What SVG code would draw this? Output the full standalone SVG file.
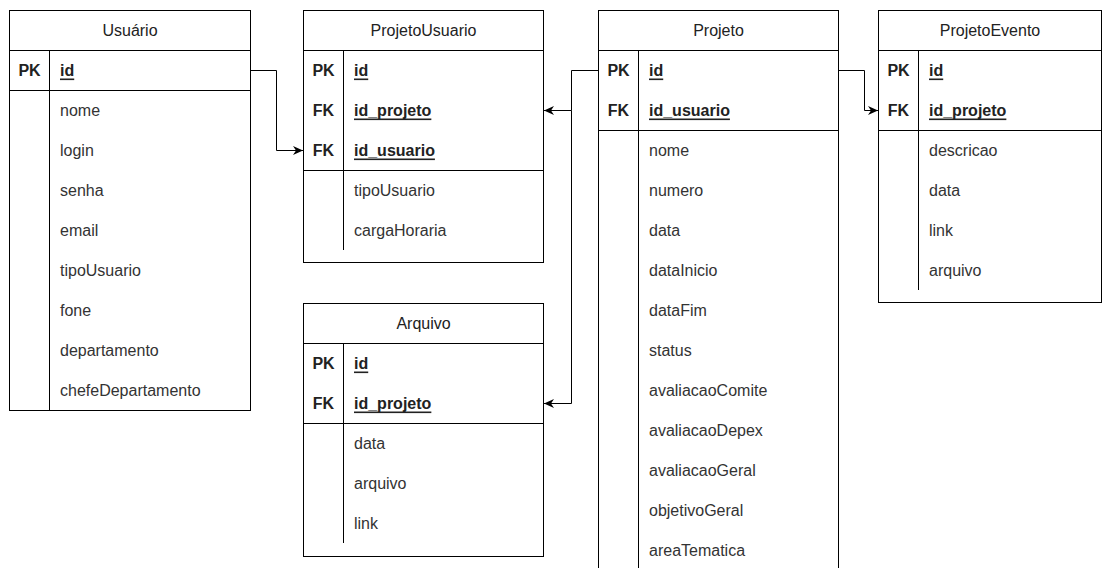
<svg xmlns="http://www.w3.org/2000/svg" width="1115" height="568" viewBox="0 0 1115 568">
<style>
.box{fill:#fff;stroke:#000;stroke-width:1}
.ln{stroke:#000;stroke-width:1;fill:none}
.t{font-family:"Liberation Sans",Arial,sans-serif;font-size:16px;fill:#333;dominant-baseline:central}
.h{text-anchor:middle;fill:#222}
.k{font-weight:bold;text-anchor:middle;fill:#222}
.kf{font-weight:bold;text-decoration:underline;fill:#222}
.c{stroke:#000;stroke-width:1;fill:none;marker-end:url(#arr)}
</style>
<defs>
<marker id="arr" markerUnits="userSpaceOnUse" markerWidth="12" markerHeight="10" refX="10" refY="4.5" orient="auto">
<path d="M0,0 L10,4.5 L0,9 L3,4.5 z" fill="#000"/>
</marker>
</defs>
<rect width="1115" height="568" fill="#fff"/>

<g id="usuario">
<rect class="box" x="9.5" y="10.5" width="241" height="400"/>
<line class="ln" x1="9.5" y1="50.5" x2="250.5" y2="50.5"/>
<line class="ln" x1="9.5" y1="90.5" x2="250.5" y2="90.5"/>
<line class="ln" x1="49.5" y1="50.5" x2="49.5" y2="410.5"/>
<text class="t h" x="130" y="30">Usuário</text>
<text class="t k" x="29.5" y="70">PK</text>
<text class="t kf" x="60" y="70">id</text>
<text class="t" x="60" y="110">nome</text>
<text class="t" x="60" y="150">login</text>
<text class="t" x="60" y="190">senha</text>
<text class="t" x="60" y="230">email</text>
<text class="t" x="60" y="270">tipoUsuario</text>
<text class="t" x="60" y="310">fone</text>
<text class="t" x="60" y="350">departamento</text>
<text class="t" x="60" y="390">chefeDepartamento</text>
</g>

<g id="projetousuario">
<rect class="box" x="303.5" y="10.5" width="240" height="252"/>
<line class="ln" x1="303.5" y1="50.5" x2="543.5" y2="50.5"/>
<line class="ln" x1="303.5" y1="170.5" x2="543.5" y2="170.5"/>
<line class="ln" x1="343.5" y1="50.5" x2="343.5" y2="250"/>
<text class="t h" x="423.5" y="30">ProjetoUsuario</text>
<text class="t k" x="323.5" y="70">PK</text>
<text class="t kf" x="354" y="70">id</text>
<text class="t k" x="323.5" y="110">FK</text>
<text class="t kf" x="354" y="110">id_projeto</text>
<text class="t k" x="323.5" y="150">FK</text>
<text class="t kf" x="354" y="150">id_usuario</text>
<text class="t" x="354" y="190">tipoUsuario</text>
<text class="t" x="354" y="230">cargaHoraria</text>
</g>

<g id="arquivo">
<rect class="box" x="303.5" y="303.5" width="240" height="253"/>
<line class="ln" x1="303.5" y1="343.5" x2="543.5" y2="343.5"/>
<line class="ln" x1="303.5" y1="423.5" x2="543.5" y2="423.5"/>
<line class="ln" x1="343.5" y1="343.5" x2="343.5" y2="543"/>
<text class="t h" x="423.5" y="323">Arquivo</text>
<text class="t k" x="323.5" y="363">PK</text>
<text class="t kf" x="354" y="363">id</text>
<text class="t k" x="323.5" y="403">FK</text>
<text class="t kf" x="354" y="403">id_projeto</text>
<text class="t" x="354" y="443">data</text>
<text class="t" x="354" y="483">arquivo</text>
<text class="t" x="354" y="523">link</text>
</g>

<g id="projeto">
<rect class="box" x="598.5" y="10.5" width="240" height="570"/>
<line class="ln" x1="598.5" y1="50.5" x2="838.5" y2="50.5"/>
<line class="ln" x1="598.5" y1="130.5" x2="838.5" y2="130.5"/>
<line class="ln" x1="638.5" y1="50.5" x2="638.5" y2="580"/>
<text class="t h" x="718.5" y="30">Projeto</text>
<text class="t k" x="618.5" y="70">PK</text>
<text class="t kf" x="649" y="70">id</text>
<text class="t k" x="618.5" y="110">FK</text>
<text class="t kf" x="649" y="110">id_usuario</text>
<text class="t" x="649" y="150">nome</text>
<text class="t" x="649" y="190">numero</text>
<text class="t" x="649" y="230">data</text>
<text class="t" x="649" y="270">dataInicio</text>
<text class="t" x="649" y="310">dataFim</text>
<text class="t" x="649" y="350">status</text>
<text class="t" x="649" y="390">avaliacaoComite</text>
<text class="t" x="649" y="430">avaliacaoDepex</text>
<text class="t" x="649" y="470">avaliacaoGeral</text>
<text class="t" x="649" y="510">objetivoGeral</text>
<text class="t" x="649" y="550">areaTematica</text>
</g>

<g id="projetoevento">
<rect class="box" x="878.5" y="10.5" width="223" height="292"/>
<line class="ln" x1="878.5" y1="50.5" x2="1101.5" y2="50.5"/>
<line class="ln" x1="878.5" y1="130.5" x2="1101.5" y2="130.5"/>
<line class="ln" x1="918.5" y1="50.5" x2="918.5" y2="290"/>
<text class="t h" x="990" y="30">ProjetoEvento</text>
<text class="t k" x="898.5" y="70">PK</text>
<text class="t kf" x="929" y="70">id</text>
<text class="t k" x="898.5" y="110">FK</text>
<text class="t kf" x="929" y="110">id_projeto</text>
<text class="t" x="929" y="150">descricao</text>
<text class="t" x="929" y="190">data</text>
<text class="t" x="929" y="230">link</text>
<text class="t" x="929" y="270">arquivo</text>
</g>

<g id="connectors">
<path class="c" d="M250.5,70.5 H276.5 V150.5 H303"/>
<path class="c" d="M598,70.5 H571.5 V110.5 H544"/>
<path class="c" d="M571.5,110.5 V403.5 H544"/>
<path class="c" d="M838.5,70.5 H864.5 V110.5 H878"/>
</g>
</svg>
